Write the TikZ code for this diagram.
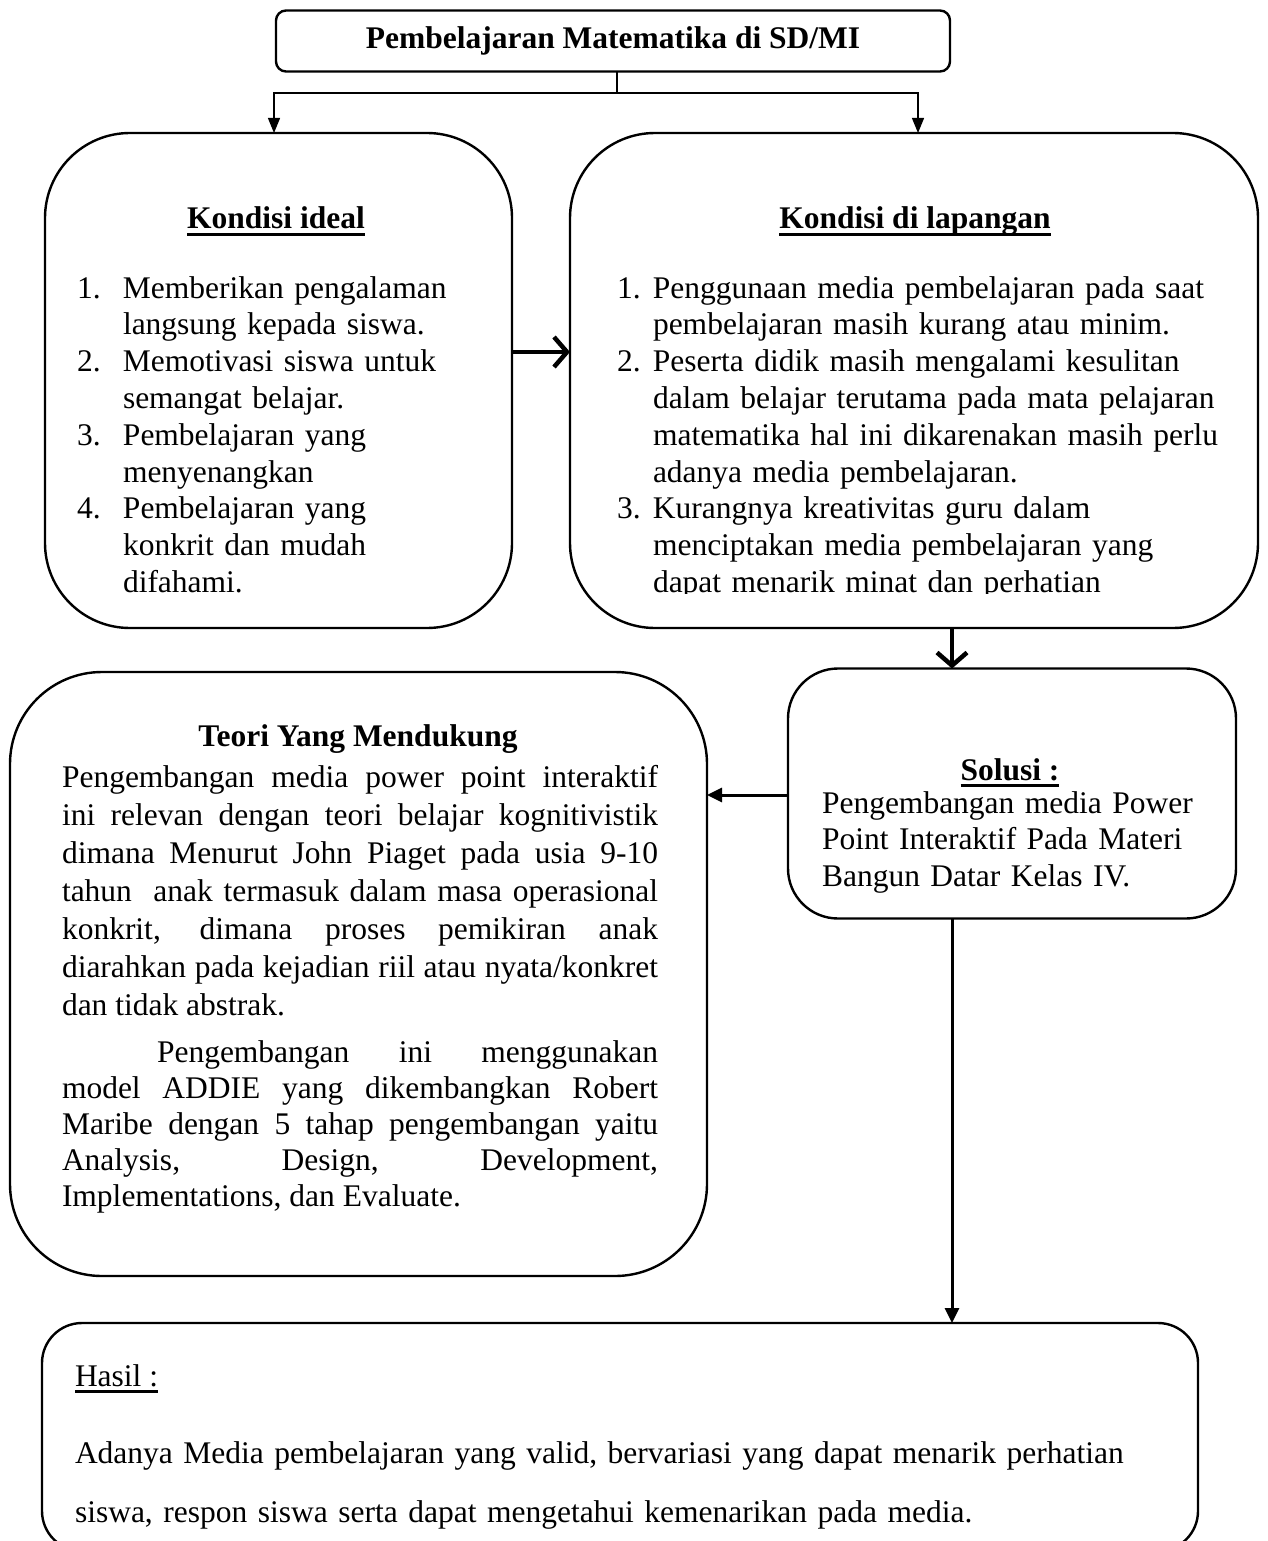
\documentclass[tikz,border=0pt]{standalone}
\usepackage{fontspec}
\setmainfont{Liberation Serif}
\usetikzlibrary{arrows.meta}
\newsavebox\ulbox
\newcommand\myul[1]{\sbox\ulbox{#1}\rlap{\rule[-6.5pt]{\wd\ulbox}{2.2pt}}\usebox\ulbox}
\newcommand\fs{\fontsize{31.5}{36.8}\selectfont}
\begin{document}
\begin{tikzpicture}[x=1pt,y=-1pt,
  box/.style={draw, line width=2.4pt, inner sep=0pt, outer sep=0pt},
  txt/.style={inner sep=0pt, outer sep=0pt, font=\fs},
  hd/.style={inner sep=0pt, outer sep=0pt, font=\fs\bfseries},
  conn/.style={line width=1.2pt},
  thinarrow/.style={line width=1.2pt, -{Triangle[length=15pt,width=12pt]}},
  barbarrow/.style={line width=4.5pt, -{Straight Barb[length=13pt,width=30pt]}},
  triarrow/.style={line width=3pt, -{Triangle[length=15pt,width=14pt]}}
]
\useasboundingbox (0,0) rectangle (1267,1541);
\clip (0,0) rectangle (1267,1541);
\fill[white] (0,0) rectangle (1267,1541);

% boxes
\node[box, line width=2.4pt, rounded corners=10pt, minimum width=674pt, minimum height=61pt,
      font=\fs\bfseries] (top) at (613,41) {Pembelajaran Matematika di SD/MI};
\node[box, rounded corners=85pt, minimum width=467pt, minimum height=495pt] (ideal) at (278.5,380.5) {};
\node[box, rounded corners=85pt, minimum width=688pt, minimum height=495pt] (lap) at (914,380.5) {};
\node[box, rounded corners=50pt, minimum width=448pt, minimum height=250pt] (sol) at (1012,793.5) {};
\node[box, rounded corners=92pt, minimum width=697pt, minimum height=604pt] (teori) at (358.5,974) {};
\node[box, rounded corners=40pt, minimum width=1156pt, minimum height=228pt] (hasil) at (620,1437) {};

% connectors
\coordinate (split) at (617,93);
\coordinate (lx) at (274,0);
\coordinate (rx) at (918,0);
\coordinate (ay) at (0,352);
\coordinate (bx) at (952,0);
\coordinate (cy) at (0,795);
\draw[conn] (top.south -| split) -- (split);
\draw[thinarrow] (split) -| (ideal.north -| lx);
\draw[thinarrow] (split) -| (lap.north -| rx);
\draw[barbarrow] (ideal.east |- ay) -- (lap.west |- ay);
\draw[barbarrow] (lap.south -| bx) -- (sol.north -| bx);
\draw[triarrow] (sol.west |- cy) -- (teori.east |- cy);
\draw[triarrow] (sol.south -| bx) -- (hasil.north -| bx);

% Kondisi ideal
\node[hd, anchor=base] (idealhd) at (276,229) {\myul{Kondisi ideal}};
\node[txt, anchor=base west, text width=420pt, align=left] (ideallist) at (77,298) {%
\makebox[46pt][l]{1.}Memberikan pengalaman\\
\hspace*{46pt}langsung kepada siswa.\\
\makebox[46pt][l]{2.}Memotivasi siswa untuk\\
\hspace*{46pt}semangat belajar.\\
\makebox[46pt][l]{3.}Pembelajaran yang\\
\hspace*{46pt}menyenangkan\\
\makebox[46pt][l]{4.}Pembelajaran yang\\
\hspace*{46pt}konkrit dan mudah\\
\hspace*{46pt}difahami.};

% Kondisi di lapangan
\node[hd, anchor=base] (laphd) at (915,229) {\myul{Kondisi di lapangan}};
\begin{scope}
\clip (560,133) rectangle (1258,593);
\node[txt, anchor=base west, text width=620pt, align=left] (laplist) at (617,298) {%
\makebox[36pt][l]{1.}Penggunaan media pembelajaran pada saat\\
\hspace*{36pt}pembelajaran masih kurang atau minim.\\
\makebox[36pt][l]{2.}Peserta didik masih mengalami kesulitan\\
\hspace*{36pt}dalam belajar terutama pada mata pelajaran\\
\hspace*{36pt}matematika hal ini dikarenakan masih perlu\\
\hspace*{36pt}adanya media pembelajaran.\\
\makebox[36pt][l]{3.}Kurangnya kreativitas guru dalam\\
\hspace*{36pt}menciptakan media pembelajaran yang\\
\hspace*{36pt}dapat menarik minat dan perhatian};
\end{scope}

% Teori
\node[hd, anchor=base] (teorihd) at (358,746) {Teori Yang Mendukung};
\node[txt, anchor=base west, text width=596pt, align=justify, font=\fontsize{31.5}{38}\selectfont] (teori1) at (62,787) {%
\noindent Pengembangan media power point interaktif\linebreak
ini relevan dengan teori belajar kognitivistik\linebreak
dimana Menurut John Piaget pada usia 9-10\linebreak
tahun~ anak termasuk dalam masa operasional\linebreak
konkrit, dimana proses pemikiran anak\linebreak
diarahkan pada kejadian riil atau nyata/konkret\linebreak
dan tidak abstrak.};
\node[txt, anchor=base west, text width=596pt, align=justify, font=\fontsize{31.5}{36}\selectfont] (teori2) at (62,1062) {%
\noindent\hspace*{95pt}Pengembangan ini menggunakan\linebreak
model ADDIE yang dikembangkan Robert\linebreak
Maribe dengan 5 tahap pengembangan yaitu\linebreak
Analysis, Design, Development,\linebreak
Implementations, dan Evaluate.};

% Solusi
\node[hd, anchor=base] (solhd) at (1010,780) {\myul{Solusi :}};
\node[txt, anchor=base west, text width=420pt, align=left] (soltxt) at (822,813) {%
Pengembangan media Power\\
Point Interaktif Pada Materi\\
Bangun Datar Kelas IV.};

% Hasil
\node[txt, anchor=base west] (hasilhd) at (75,1386) {\myul{Hasil :}};
\node[txt, anchor=base west, text width=1100pt, align=left, font=\fontsize{31.5}{59}\selectfont] (hasiltxt) at (75,1463) {%
Adanya Media pembelajaran yang valid, bervariasi yang dapat menarik perhatian\\
siswa, respon siswa serta dapat mengetahui kemenarikan pada media.};
\end{tikzpicture}
\end{document}
